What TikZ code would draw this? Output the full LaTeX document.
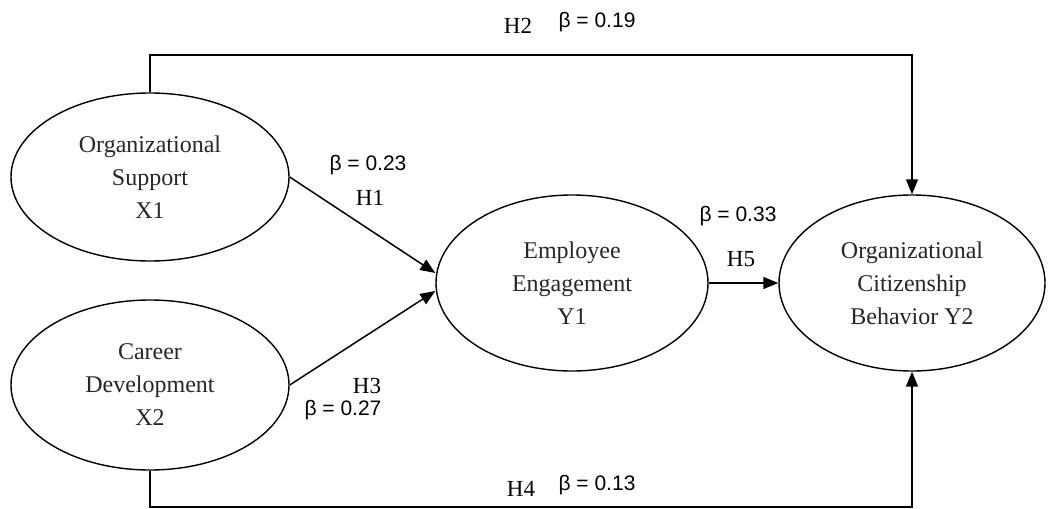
\documentclass[tikz,border=0pt]{standalone}
\usepackage{fontspec}
\setmainfont{Liberation Serif}
\newfontfamily\betafont{Liberation Sans}
\usetikzlibrary{shapes.geometric,arrows.meta,calc}
\begin{document}
\begin{tikzpicture}[x=1pt,y=-1pt,
  latent/.style={ellipse,draw,line width=1.4pt,inner sep=0pt,align=center,
    font=\fontsize{24}{33}\selectfont,text=black!85},
  path/.style={line width=1.5pt,-{Triangle[length=15pt,width=12pt]}},
  coef/.style={font=\betafont\fontsize{21}{24}\selectfont,inner sep=0pt},
  hyp/.style={font=\fontsize{23}{25}\selectfont,inner sep=0pt}]
\useasboundingbox (0,0) rectangle (1048,508);
% constructs
\node[latent,minimum width=278pt,minimum height=168pt] (X1) at (150,177)
  {Organizational\\Support\\X1};
\node[latent,minimum width=278pt,minimum height=170pt] (X2) at (150,385)
  {Career\\Development\\X2};
\node[latent,minimum width=272pt,minimum height=176pt] (Y1) at (572,283)
  {Employee\\Engagement\\Y1};
\node[latent,minimum width=266pt,minimum height=176pt] (Y2) at (912,283)
  {Organizational\\Citizenship\\Behavior Y2};
% paths
\coordinate (topline) at (0,55);
\coordinate (botline) at (0,507);
\draw[path] (X1.north) -- (X1.north |- topline) -| (Y2.north);
\draw[path] (X2.south) -- (X2.south |- botline) -| (Y2.south);
\draw[path] (X1.east) -- ($(Y1.west)+(0,-10)$);
\draw[path] (X2.east) -- ($(Y1.west)+(0,8)$);
\draw[path] (Y1.east) -- (Y2.west);
% labels
\node[hyp] (h2) at (518,26) {H2};
\node[coef] (b2) at (597,22) {β = 0.19};
\node[coef] (b1) at (368,165) {β = 0.23};
\node[hyp] (h1) at (370,198) {H1};
\node[coef] (b5) at (738,216) {β = 0.33};
\node[hyp] (h5) at (741,259) {H5};
\node[hyp] (h3) at (367,386) {H3};
\node[coef] (b3) at (343,410) {β = 0.27};
\node[hyp] (h4) at (521,489) {H4};
\node[coef] (b4) at (597,485) {β = 0.13};
\end{tikzpicture}
\end{document}
